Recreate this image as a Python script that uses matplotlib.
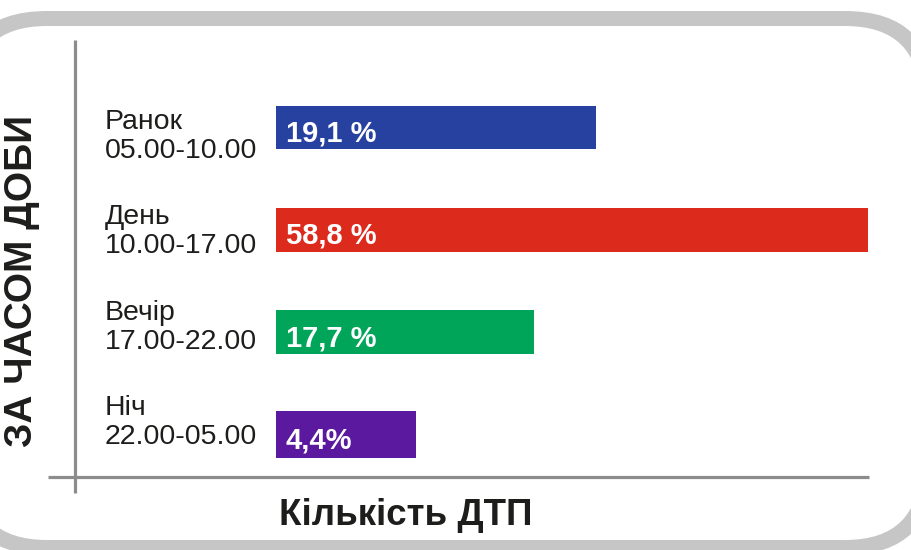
import matplotlib
matplotlib.use("Agg")
import matplotlib.pyplot as plt
from matplotlib.patches import FancyBboxPatch
from matplotlib.transforms import blended_transform_factory

plt.rcParams['font.family'] = ['Liberation Sans', 'DejaVu Sans']

# ------------------------------------------------------------------
# Дані
# ------------------------------------------------------------------
periods = ["Ранок", "День", "Вечір", "Ніч"]
hours = ["05.00-10.00", "10.00-17.00", "17.00-22.00", "22.00-05.00"]
value_labels = ["19,1 %", "58,8 %", "17,7 %", "4,4%"]
# довжина смуг, як вона намальована в оригіналі (не пропорційна відсоткам),
# у частках найдовшої смуги
bar_lengths = [54.1, 100.0, 43.6, 23.6]

colors = ['#2741a0', '#dc2b1d', '#00a55a', '#5b199f']
bar_heights = [0.42, 0.43, 0.43, 0.46]

TXT = '#1d1d1b'
GREY = '#c6c6c6'
LINE = '#8c8c8c'

W, H = 912, 550
fig = plt.figure(figsize=(W / 100, H / 100), dpi=100)

# ------------------------------------------------------------------
# Фон: заокруглена рамка, осі, підписи осей (координати в пікселях)
# ------------------------------------------------------------------
bg = fig.add_axes([0, 0, 1, 1], zorder=0)
bg.set_xlim(0, W)
bg.set_ylim(H, 0)
bg.axis('off')

outer = FancyBboxPatch((-43, 11), 935 + 43, 555 - 11,
                       boxstyle="round,pad=0,rounding_size=90",
                       facecolor=GREY, edgecolor='none')
inner = FancyBboxPatch((-28, 26), 920 + 28, 540 - 26,
                       boxstyle="round,pad=0,rounding_size=75",
                       facecolor='white', edgecolor='none')
bg.add_patch(outer)
bg.add_patch(inner)

bg.plot([75, 75], [40, 493], color=LINE, lw=2.3, solid_capstyle='butt')
bg.plot([48, 869], [477, 477], color=LINE, lw=2.3, solid_capstyle='butt')

bg.text(22.5, 281, "ЗА ЧАСОМ ДОБИ", rotation=90, ha='center', va='center',
        fontsize=28, fontweight='bold', color=TXT)
bg.text(406, 525, "Кількість ДТП", ha='center', va='baseline',
        fontsize=26.5, fontweight='bold', color=TXT)

# ------------------------------------------------------------------
# Смуги
# ------------------------------------------------------------------
ax = fig.add_axes([276 / W, (H - 485.5) / H, 592 / W, 409 / H], zorder=1)
ax.set_facecolor('none')
ax.set_xlim(0, 100)
ax.set_ylim(3.5, -0.5)
ax.axis('off')

ypos = list(range(len(periods)))
ax.barh(ypos, bar_lengths, height=bar_heights, color=colors, left=0)

for i, lab in enumerate(value_labels):
    ax.annotate(lab, xy=(0, i), xytext=(10, -14), textcoords='offset pixels',
                ha='left', va='baseline', fontsize=21, fontweight='bold',
                color='white', annotation_clip=False)

trans = blended_transform_factory(bg.transData, ax.transData)
for i, (p, h) in enumerate(zip(periods, hours)):
    ax.text(105, 0.09 + 0.93 * i, p + "\n" + h, transform=trans,
            ha='left', va='center', fontsize=20.5, color=TXT,
            linespacing=1.15)

fig.savefig("out.png", dpi=100)
